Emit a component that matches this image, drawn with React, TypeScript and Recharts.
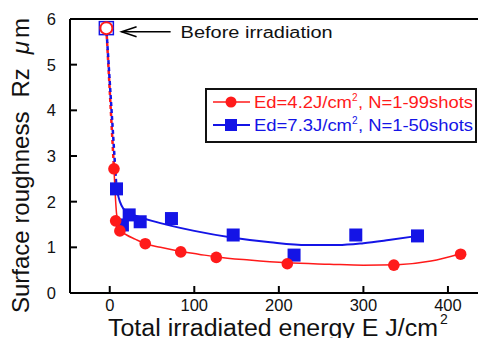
import { ComposedChart, Line, Scatter, XAxis, YAxis, ReferenceLine } from 'recharts'

const RED = '#ff1a1a'
const BLUE = '#1414e6'

const xTicks = [0, 100, 200, 300, 400]
const yTicks = [0, 1, 2, 3, 4, 5, 6]

// before irradiation
const beforeX = [-4]
const beforeY = [5.8]

// Ed=4.2 J/cm2
const redX = [5, 7, 12, 42, 84, 126, 210, 336, 415]
const redY = [2.72, 1.58, 1.36, 1.08, 0.9, 0.78, 0.64, 0.61, 0.85]
const redFitX = [5, 8, 12, 20, 30, 42, 60, 84, 105, 126, 165, 210, 260, 300, 340, 380, 415]
const redFitY = [2.72, 1.75, 1.38, 1.27, 1.18, 1.08, 1.0, 0.91, 0.85, 0.79, 0.72, 0.66, 0.63, 0.61, 0.62, 0.7, 0.86]

// Ed=7.3 J/cm2
const blueX = [8, 15, 23, 36, 73, 146, 218, 291, 364]
const blueY = [2.28, 1.49, 1.71, 1.56, 1.63, 1.27, 0.83, 1.27, 1.25]
const blueFitX = [8, 12, 16, 23, 36, 50, 73, 100, 146, 190, 233, 270, 300, 330, 364]
const blueFitY = [2.28, 2.0, 1.85, 1.75, 1.66, 1.58, 1.47, 1.36, 1.21, 1.11, 1.05, 1.05, 1.09, 1.16, 1.25]

// arrow annotation
const arrowX = [14, 72]
const arrowY = 5.72

const pts = (xs: number[], ys: number[]) => xs.map((x, i) => ({ x, y: ys[i] }))

const redPts = pts(redX, redY)
const bluePts = pts(blueX, blueY)
const redFit = pts(redFitX, redFitY)
const blueFit = pts(blueFitX, blueFitY)
const beforePts = pts(beforeX, beforeY)
const redDash = [beforePts[0], redPts[0]]
const blueDash = [beforePts[0], bluePts[0]]
// x ticks sit on the bottom axis (y = 0)
const xTickPts = xTicks.map(v => ({ x: v, y: 0 }))

const FONT = '"Liberation Sans", Arial, sans-serif'

function YTick({ x, y, payload }: any) {
  const ax = x + 14
  return (
    <g>
      <line x1={ax} x2={ax + 7} y1={y} y2={y} stroke="#000" strokeWidth={2} />
      <text x={x} y={y + 6} textAnchor="end" fontSize={16.5} fontFamily={FONT} fill="#111">
        {payload.value}
      </text>
    </g>
  )
}

// inward tick mark plus label under the axis
function XTickMark({ cx, cy, payload }: any) {
  return (
    <g>
      <line x1={cx} x2={cx} y1={cy} y2={cy - 7} stroke="#000" strokeWidth={2} />
      <text x={cx} y={cy + 18} textAnchor="middle" fontSize={16.5} fontFamily={FONT} fill="#111">
        {payload?.x}
      </text>
    </g>
  )
}

function Square({ cx, cy }: any) {
  return <rect x={cx - 6.5} y={cy - 6.5} width={13} height={13} fill={BLUE} />
}

function Circle({ cx, cy }: any) {
  return <circle cx={cx} cy={cy} r={5.8} fill={RED} />
}

function BeforeMark({ cx, cy }: any) {
  return (
    <g>
      <rect x={cx - 7} y={cy - 6.5} width={14} height={13} fill="#fff" stroke={BLUE} strokeWidth={1.5} />
      <circle cx={cx} cy={cy} r={6} fill="#fff" stroke={RED} strokeWidth={2} />
    </g>
  )
}

function Arrow({ x1, y1, x2, y2 }: any) {
  return (
    <g>
      <line x1={x1} y1={y1} x2={x2} y2={y2} stroke="#000" strokeWidth={1.5} />
      <path d={`M${x1 + 15},${y1 - 5} L${x1},${y1} L${x1 + 15},${y1 + 5}`} fill="none" stroke="#000" strokeWidth={1.5} />
      <text x={x2 + 10} y={y2 + 6} fontSize={16} fontFamily={FONT} fill="#111" textLength={152} lengthAdjust="spacingAndGlyphs">
        Before irradiation
      </text>
    </g>
  )
}

function LegendEntry({ y, color, head, tail }: any) {
  return (
    <g fill={color} fontFamily={FONT}>
      <text x={49} y={y} fontSize={16} textLength={98} lengthAdjust="spacingAndGlyphs">{head}</text>
      <text x={147} y={y - 7} fontSize={10}>2</text>
      <text x={153} y={y} fontSize={16} textLength={115} lengthAdjust="spacingAndGlyphs">{tail}</text>
    </g>
  )
}

function LegendBox() {
  return (
    <svg width={272} height={55} style={{ display: 'block', position: 'absolute', left: 205, top: 88 }}>
      <rect x={1} y={1} width={270} height={53} fill="#fff" stroke="#111" strokeWidth={2} />
      <line x1={8} x2={45} y1={14} y2={14} stroke={RED} strokeWidth={1.5} />
      <circle cx={26} cy={14} r={5.5} fill={RED} />
      <LegendEntry y={20} color={RED} head="Ed=4.2J/cm" tail=", N=1-99shots" />
      <line x1={8} x2={45} y1={37} y2={37} stroke={BLUE} strokeWidth={2} />
      <rect x={20} y={31} width={12} height={12} fill={BLUE} />
      <LegendEntry y={43} color={BLUE} head="Ed=7.3J/cm" tail=", N=1-50shots" />
    </svg>
  )
}

const yLabel = () => (
  <text transform="translate(29,313) rotate(-90)" fontSize={24} fontFamily={FONT} fill="#111">
    Surface roughness
    <tspan dx={14}>Rz</tspan>
    <tspan dx={14} fontStyle="italic">μ</tspan>
    <tspan dx={3}>m</tspan>
  </text>
)

const xLabel = () => (
  <g fontFamily={FONT} fill="#111">
    <text x={108} y={336} fontSize={23} textLength={330} lengthAdjust="spacingAndGlyphs">
      Total irradiated energy E J/cm
    </text>
    <text x={440} y={324} fontSize={14}>2</text>
  </g>
)

export default function App() {
  return (
    <div style={{ position: 'relative', width: 486, height: 346, margin: -8, background: '#fff' }}>
      <ComposedChart width={486} height={346} margin={{ top: 19, right: 0, bottom: 0, left: 10 }}>
        <XAxis
          type="number" dataKey="x" domain={[-47, 445]} ticks={xTicks}
          axisLine={{ stroke: '#000', strokeWidth: 2 }} tickLine={false} tick={false}
          height={53} label={xLabel}
        />
        <YAxis
          type="number" dataKey="y" domain={[0, 6]} ticks={yTicks} interval={0}
          axisLine={{ stroke: '#000', strokeWidth: 2 }} tickLine={false} tickSize={0} tickMargin={14}
          tick={(p: any) => <YTick {...p} />} width={60} label={yLabel}
        />
        <ReferenceLine y={6} stroke="#000" strokeWidth={2} />
        <ReferenceLine
          segment={[{ x: arrowX[0], y: arrowY }, { x: arrowX[1], y: arrowY }]}
          shape={<Arrow />}
        />
        <Line data={redDash} dataKey="y" stroke={RED} strokeWidth={2.5} strokeDasharray="4 3" dot={false} isAnimationActive={false} />
        <Line data={blueDash} dataKey="y" stroke={BLUE} strokeWidth={2.5} strokeDasharray="4 3" strokeDashoffset={3} dot={false} isAnimationActive={false} />
        <Line data={blueFit} dataKey="y" type="monotone" stroke={BLUE} strokeWidth={2} dot={false} isAnimationActive={false} />
        <Line data={redFit} dataKey="y" type="monotone" stroke={RED} strokeWidth={1.5} dot={false} isAnimationActive={false} />
        <Scatter data={xTickPts} dataKey="y" shape={<XTickMark />} isAnimationActive={false} />
        <Scatter data={bluePts} dataKey="y" shape={<Square />} isAnimationActive={false} />
        <Scatter data={redPts} dataKey="y" shape={<Circle />} isAnimationActive={false} />
        <Scatter data={beforePts} dataKey="y" shape={<BeforeMark />} isAnimationActive={false} />
      </ComposedChart>
      <LegendBox />
    </div>
  )
}
